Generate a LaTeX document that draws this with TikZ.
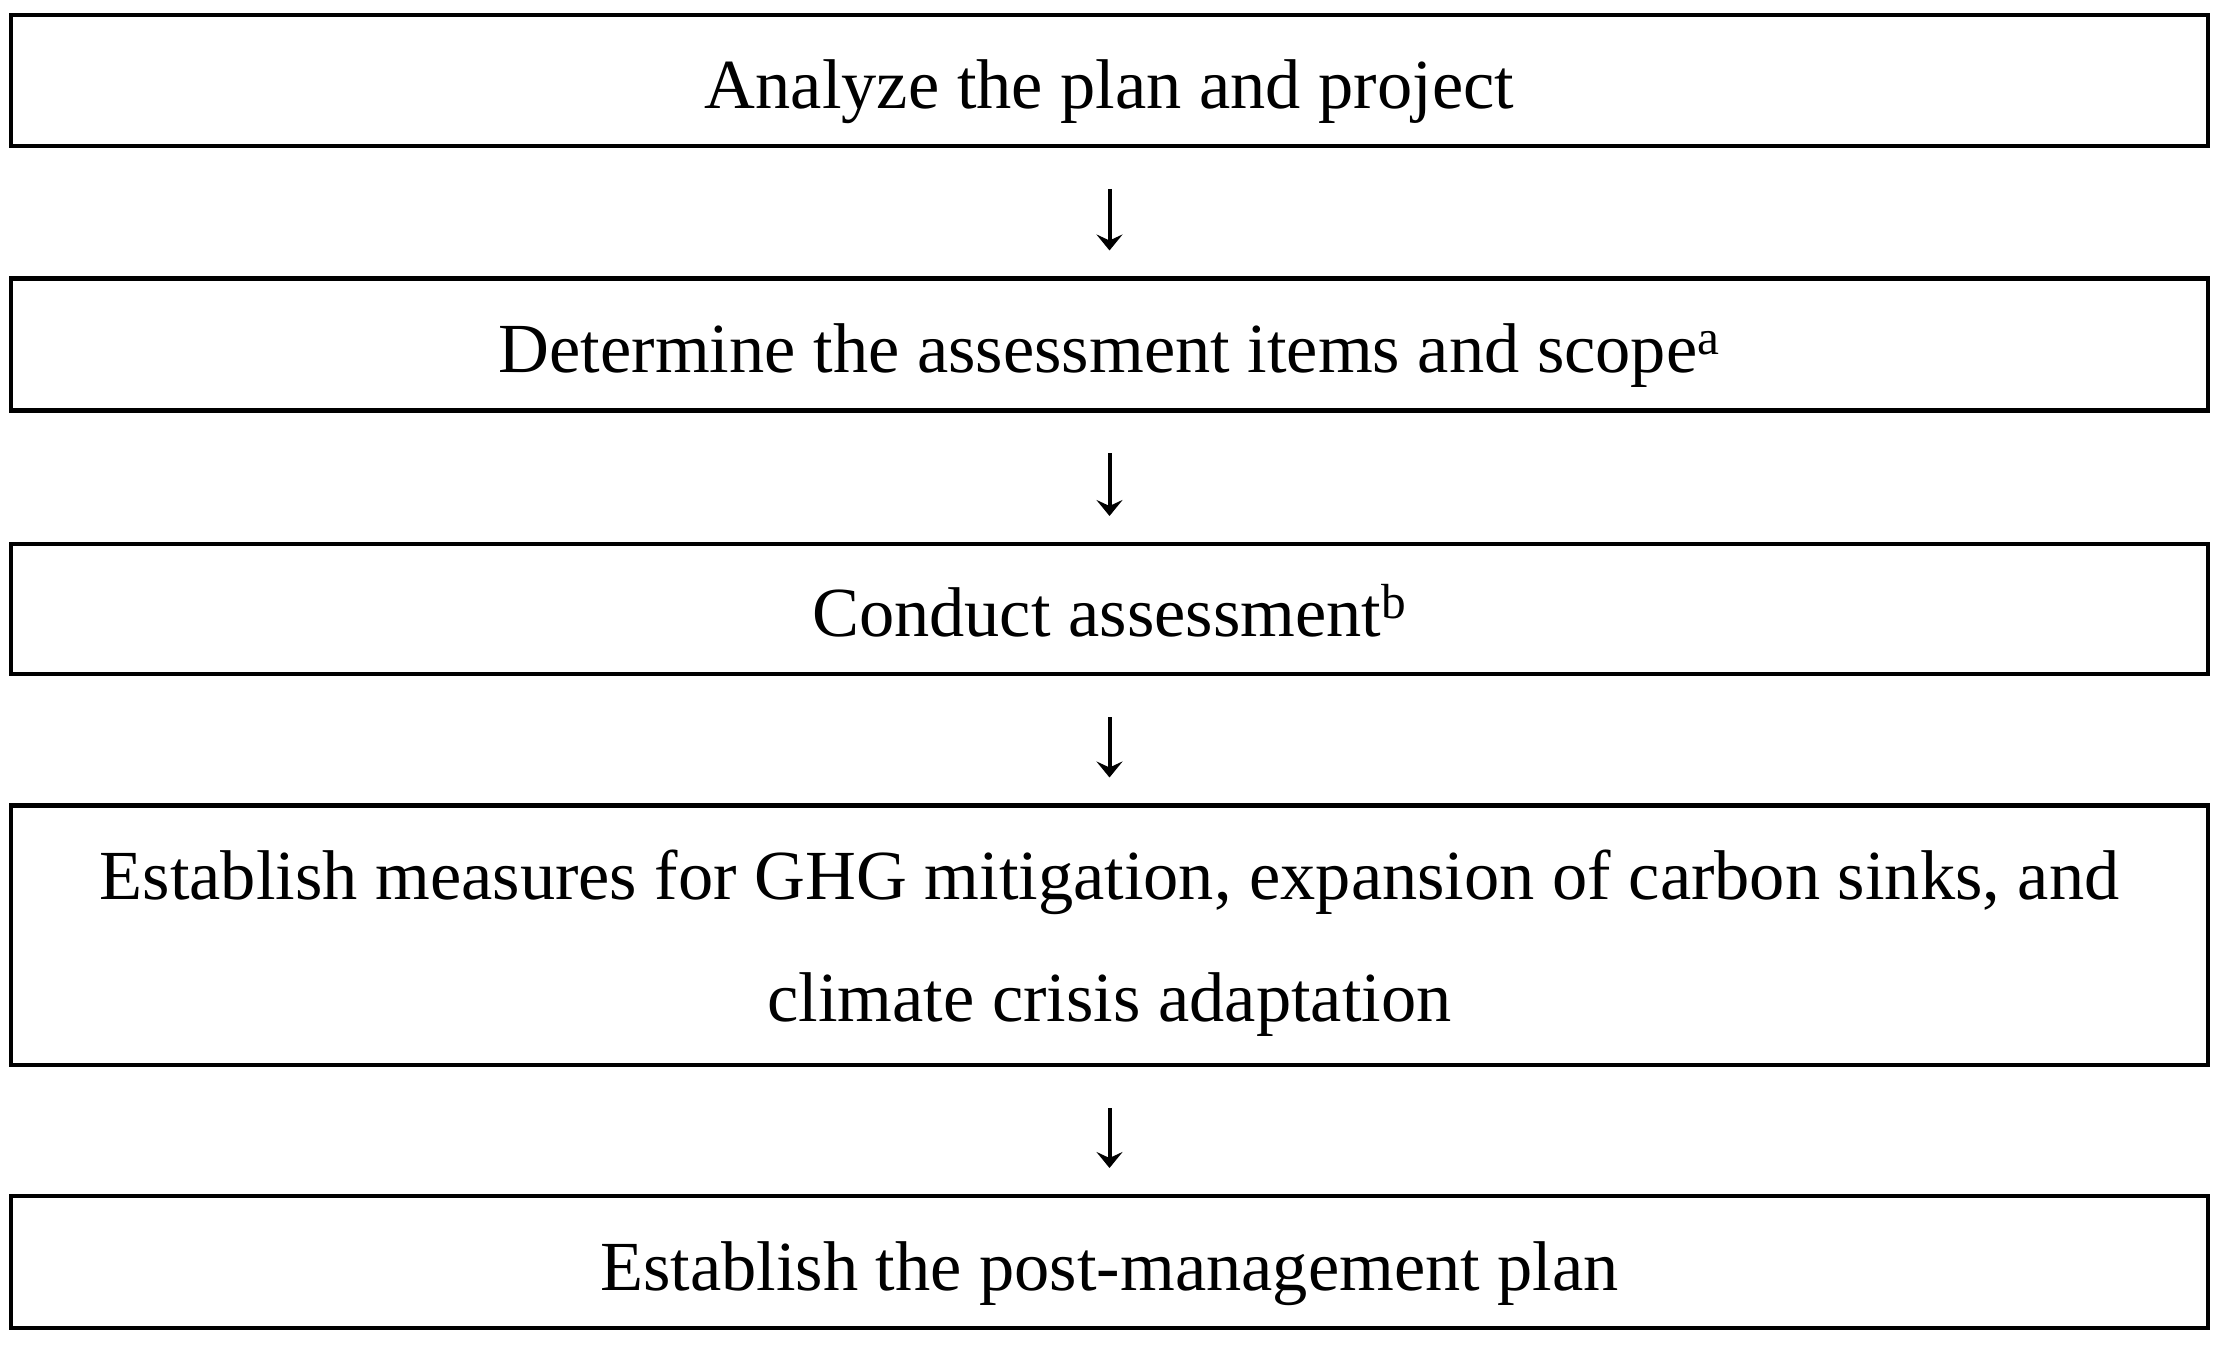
\documentclass[tikz,border=0pt]{standalone}
\usepackage{fontspec}
\setmainfont{Liberation Serif}
\usetikzlibrary{arrows.meta}
\newcommand\lowtext[1]{\raisebox{-14pt}[0pt][0pt]{#1}}
\begin{document}
\begin{tikzpicture}[x=0.5pt,y=-0.5pt,
  stepbox/.style={draw, line width=2.25pt, minimum width=1098.5pt, inner sep=0pt, outer sep=0pt,
    font=\fontsize{35.2pt}{42pt}\selectfont},
  flow/.style={line width=2pt, -{Stealth[length=8pt,width=13pt,inset=3pt]},
    shorten <=21.5pt, shorten >=14pt}]
\useasboundingbox (0,0) rectangle (2217,1352);
\fill[white] (0,0) rectangle (2217,1352);
\node[stepbox, minimum height=65.5pt] (b1) at (1109.5,80.5) {\lowtext{Analyze the plan and project}};
\node[stepbox, minimum height=66pt] (b2) at (1109.5,344.5) {\lowtext{Determine the assessment items and scope\textsuperscript{a}}};
\node[stepbox, minimum height=65pt] (b3) at (1109.5,609) {\lowtext{Conduct assessment\textsuperscript{b}}};
\node[stepbox, minimum height=129.75pt] (b4) at (1109.5,935.25) {\raisebox{18pt}[0pt][0pt]{\makebox[0pt]{Establish measures for GHG mitigation, expansion of carbon sinks, and}}\raisebox{-43pt}[0pt][0pt]{\makebox[0pt]{climate crisis adaptation}}};
\node[stepbox, minimum height=66pt] (b5) at (1109.5,1262) {\lowtext{Establish the post-management plan}};
\draw[flow] (b1) -- (b2);
\draw[flow] (b2) -- (b3);
\draw[flow] (b3) -- (b4);
\draw[flow] (b4) -- (b5);
\end{tikzpicture}
\end{document}
